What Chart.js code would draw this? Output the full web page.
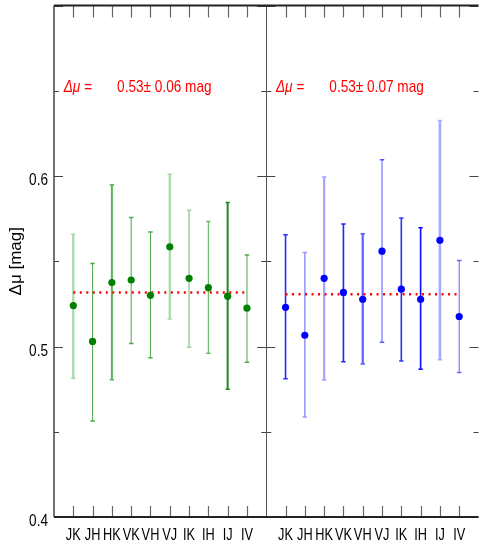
<!DOCTYPE html>
<html>
<head>
<meta charset="utf-8">
<script src="https://cdn.jsdelivr.net/npm/chart.js@4/dist/chart.umd.min.js"></script>
<style>
  html, body { margin: 0; padding: 0; background: #fff; overflow: hidden; }
  #wrap { width: 480px; height: 549px; overflow: hidden; position: relative; }
  canvas { display: block; }
</style>
</head>
<body>
<div id="wrap"><canvas id="c" width="484" height="549" style="width:484px;height:549px"></canvas></div>
<script>
// ---- data ----
const categories = ['JK', 'JH', 'HK', 'VK', 'VH', 'VJ', 'IK', 'IH', 'IJ', 'IV'];

const leftValues = [0.524, 0.503, 0.5375, 0.539, 0.530, 0.5585, 0.540, 0.5345, 0.5295, 0.5225];
const leftLow    = [0.4814, 0.4563, 0.4805, 0.5017, 0.4934, 0.5161, 0.4996, 0.4961, 0.4749, 0.4907];
const leftHigh   = [0.5658, 0.5487, 0.5948, 0.5756, 0.5671, 0.6010, 0.5799, 0.5733, 0.5844, 0.5536];
const leftMean   = 0.5317;

const rightValues = [0.523, 0.5066, 0.540, 0.5317, 0.5277, 0.5559, 0.5336, 0.5277, 0.5623, 0.5176];
const rightLow    = [0.4811, 0.4586, 0.4803, 0.4911, 0.4898, 0.5025, 0.4915, 0.4867, 0.4923, 0.4847];
const rightHigh   = [0.5655, 0.5551, 0.5994, 0.5719, 0.5661, 0.6095, 0.5754, 0.5696, 0.6325, 0.5505];
const rightMean   = 0.5306;

const yTickValues = [0.4, 0.45, 0.5, 0.55, 0.6, 0.65, 0.7];
const yTickLabels = ['0.4', '', '0.5', '', '0.6', '', ''];

const annotationLeft  = ['Δμ =', '0.53± 0.06 mag'];
const annotationRight = ['Δμ =', '0.53± 0.07 mag'];

// ---- styles ----
const leftBarColors  = ['#a6d8a6', '#4aa84a', '#5ab45a', '#4aa84a', '#4aa84a', '#a6d8a6', '#9fd49f', '#6abc6a', '#1f8a1f', '#4aa84a'];
const leftBarWidths  = [2.2, 1, 2, 1, 1, 2.2, 1.6, 1.2, 2, 1];
const rightBarColors = ['#2a2aff', '#9a9aff', '#a4a4ff', '#2222ff', '#5e5eff', '#5555ff', '#3030ff', '#0a0aff', '#a8a8ff', '#6262ff'];
const rightBarWidths = [1.6, 1.6, 2.2, 1.6, 2.2, 1, 1.6, 1.6, 2.6, 1];

const FONT = "'Liberation Sans', Arial, sans-serif";
const NARROW = 0.8;         // horizontal compression to mimic a narrow face
const PANEL_OFFSET = 11;    // right panel starts after x = 11

const leftX  = categories.map((_, i) => i + 1);
const rightX = categories.map((_, i) => i + 1 + PANEL_OFFSET);

// ---- datasets ----
const datasets = [];
datasets.push({
  type: 'scatter', order: 0,
  data: leftX.map((x, i) => ({ x, y: leftValues[i] })),
  backgroundColor: '#008000', borderColor: '#008000',
  pointRadius: 3.6, pointHoverRadius: 3.6, borderWidth: 0
});
datasets.push({
  type: 'scatter', order: 0,
  data: rightX.map((x, i) => ({ x, y: rightValues[i] })),
  backgroundColor: '#0000ff', borderColor: '#0000ff',
  pointRadius: 3.6, pointHoverRadius: 3.6, borderWidth: 0
});
datasets.push({
  type: 'line', order: 1,
  data: [{ x: leftX[0], y: leftMean }, { x: leftX[leftX.length - 1], y: leftMean }],
  borderColor: '#ff0000', borderWidth: 2.5, borderDash: [2, 4.5], pointRadius: 0, fill: false
});
datasets.push({
  type: 'line', order: 1,
  data: [{ x: rightX[0], y: rightMean }, { x: rightX[rightX.length - 1], y: rightMean }],
  borderColor: '#ff0000', borderWidth: 2.5, borderDash: [2, 4.5], pointRadius: 0, fill: false
});
function addBars(xs, lo, hi, colors, widths) {
  xs.forEach((x, i) => {
    datasets.push({
      type: 'line', order: 2,
      data: [{ x, y: lo[i] }, { x, y: hi[i] }],
      borderColor: colors[i], borderWidth: widths[i],
      pointStyle: 'line', pointRadius: 2.2, pointBorderWidth: 1.5,
      pointBorderColor: colors[i], pointBackgroundColor: colors[i],
      fill: false
    });
  });
}
addBars(leftX, leftLow, leftHigh, leftBarColors, leftBarWidths);
addBars(rightX, rightLow, rightHigh, rightBarColors, rightBarWidths);

function narrowText(ctx, text, px, py, align, k) {
  ctx.save();
  ctx.translate(px, py);
  ctx.scale(k || NARROW, 1);
  ctx.textAlign = align;
  ctx.fillText(text, 0, 0);
  ctx.restore();
}

// ---- frame plugin ----
const framePlugin = {
  id: 'frame',
  afterDraw(chart) {
    const { ctx, chartArea: a, scales: { x, y } } = chart;
    ctx.save();
    ctx.lineCap = 'butt';
    const xDiv = x.getPixelForValue(PANEL_OFFSET);

    // y ticks (inward) + labels
    yTickValues.forEach((v, i) => {
      const py = Math.round(y.getPixelForValue(v)) + 0.5;
      const major = yTickLabels[i] !== '' || i === yTickValues.length - 1;
      const len = major ? 9 : 5;
      ctx.strokeStyle = '#444';
      ctx.lineWidth = 1;
      ctx.beginPath();
      ctx.moveTo(a.left, py); ctx.lineTo(a.left + len, py);
      ctx.moveTo(xDiv - len, py); ctx.lineTo(xDiv + len, py);
      ctx.moveTo(a.right - len, py); ctx.lineTo(a.right, py);
      ctx.stroke();
      if (yTickLabels[i]) {
        ctx.fillStyle = '#000';
        ctx.font = '17px ' + FONT;
        ctx.textBaseline = 'middle';
        narrowText(ctx, yTickLabels[i], a.left - 6, py + 4, 'right');
      }
    });

    // x ticks top & bottom + labels
    ctx.strokeStyle = '#666';
    ctx.lineWidth = 1.2;
    ctx.beginPath();
    leftX.concat(rightX).forEach(v => {
      const px = Math.round(x.getPixelForValue(v)) + 0.5;
      ctx.moveTo(px, a.bottom); ctx.lineTo(px, a.bottom - 11);
      ctx.moveTo(px, a.top); ctx.lineTo(px, a.top + 12);
    });
    ctx.stroke();
    ctx.fillStyle = '#000';
    ctx.font = '17px ' + FONT;
    ctx.textBaseline = 'middle';
    leftX.concat(rightX).forEach((v, k) => {
      narrowText(ctx, categories[k % categories.length], x.getPixelForValue(v), a.bottom + 18, 'center', 0.75);
    });

    // divider
    ctx.strokeStyle = '#555';
    ctx.lineWidth = 1;
    ctx.beginPath();
    ctx.moveTo(Math.round(xDiv) + 0.5, a.top); ctx.lineTo(Math.round(xDiv) + 0.5, a.bottom);
    ctx.stroke();

    // left axis
    ctx.strokeStyle = '#444';
    ctx.lineWidth = 1.5;
    ctx.beginPath();
    ctx.moveTo(a.left, a.top); ctx.lineTo(a.left, a.bottom);
    ctx.stroke();

    // top & bottom borders
    ctx.strokeStyle = '#222';
    ctx.lineWidth = 2;
    ctx.beginPath();
    ctx.moveTo(a.left, a.top); ctx.lineTo(a.right, a.top);
    ctx.moveTo(a.left, a.bottom); ctx.lineTo(a.right, a.bottom);
    ctx.stroke();

    // annotations
    ctx.fillStyle = '#ff0000';
    ctx.textBaseline = 'middle';
    const ty = y.getPixelForValue(0.652);
    [[annotationLeft, 0.5, 3.27], [annotationRight, 0.5 + PANEL_OFFSET, 3.27 + PANEL_OFFSET]].forEach(([txt, x1, x2]) => {
      ctx.font = 'italic 17px ' + FONT;
      narrowText(ctx, txt[0], x.getPixelForValue(x1), ty, 'left');
      ctx.font = '17px ' + FONT;
      narrowText(ctx, txt[1], x.getPixelForValue(x2), ty, 'left');
    });
    ctx.restore();
  }
};

new Chart(document.getElementById('c'), {
  type: 'scatter',
  data: { datasets },
  options: {
    responsive: false,
    animation: false,
    devicePixelRatio: 1,
    layout: { padding: { top: 3, right: 2, left: 0, bottom: 0 } },
    plugins: { legend: { display: false }, tooltip: { enabled: false } },
    scales: {
      x: {
        type: 'linear', min: 0, max: 22, position: 'bottom',
        grid: { display: false, drawTicks: false },
        border: { display: false },
        ticks: { display: false },
        afterFit(scale) { scale.height = 32; scale.paddingLeft = 0; scale.paddingRight = 0; }
      },
      y: {
        type: 'linear', min: 0.4, max: 0.7,
        grid: { display: false, drawTicks: false },
        border: { display: false },
        ticks: { display: false },
        afterFit(scale) { scale.width = 54; scale.paddingTop = 0; scale.paddingBottom = 0; },
        title: {
          display: true, text: 'Δμ [mag]', color: '#000',
          font: { family: FONT, size: 17 }, padding: { top: 6, bottom: 0 }
        }
      }
    }
  },
  plugins: [framePlugin]
});
</script>
</body>
</html>
